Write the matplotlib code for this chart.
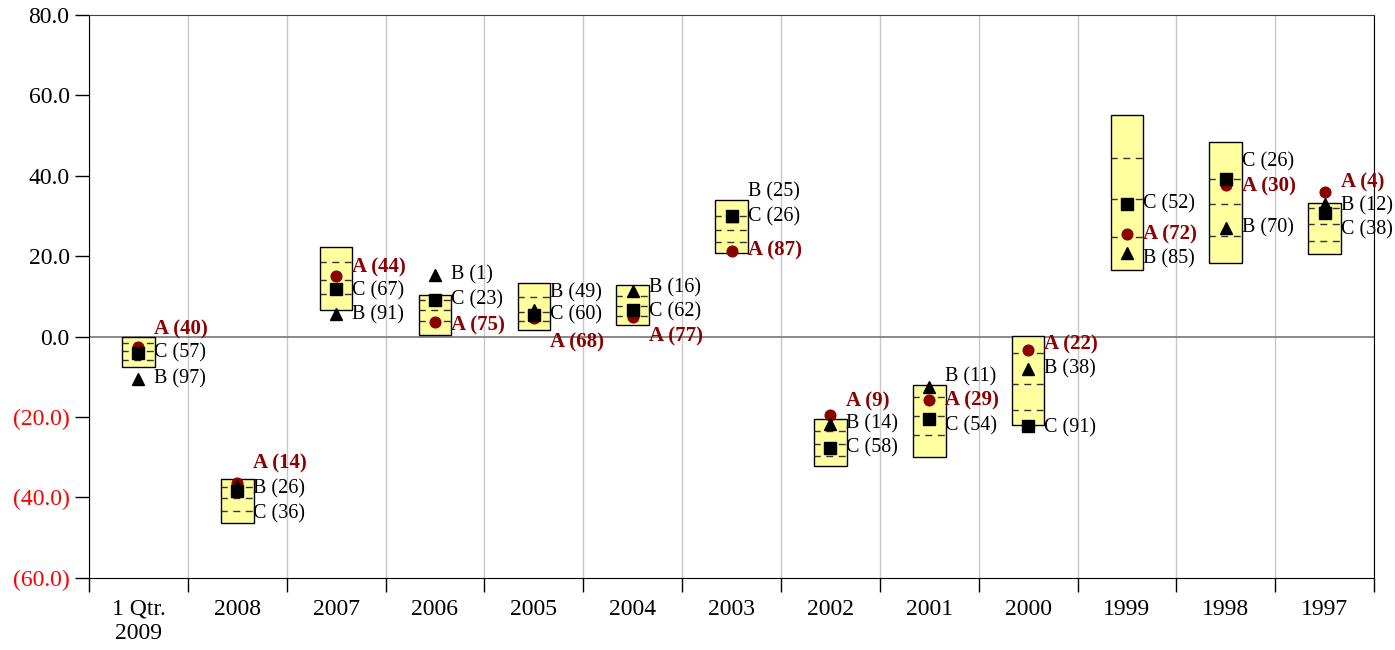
import numpy as np
import matplotlib.pyplot as plt

plt.rcParams['font.family'] = ['Liberation Serif', 'DejaVu Serif']

# Categories (periods)
periods = ['1 Qtr.\n2009', '2008', '2007', '2006', '2005', '2004', '2003',
           '2002', '2001', '2000', '1999', '1998', '1997']

# Range boxes: top / bottom edges and the three inner dashed lines
box_top = [0.0, -35.4, 22.2, 10.4, 13.4, 12.9, 34.1, -20.5, -12.0, 0.1, 55.2, 48.4, 33.2]
box_upper = [-1.6, -37.5, 18.6, 9.2, 9.8, 10.0, 30.1, -23.6, -15.1, -4.2, 44.3, 39.1, 32.0]
box_median = [-3.7, -40.1, 14.0, 6.7, 6.0, 7.7, 26.4, -26.7, -19.8, -11.7, 34.3, 33.0, 27.9]
box_lower = [-5.7, -43.3, 10.6, 3.8, 3.8, 5.2, 23.5, -29.6, -24.4, -18.2, 24.7, 25.1, 23.7]
box_bottom = [-7.5, -46.3, 6.5, 0.5, 1.6, 2.8, 20.8, -32.1, -30.0, -22.1, 16.5, 18.4, 20.6]

# Series values and their ranks
a_vals = [-2.7, -36.4, 15.0, 3.6, 4.6, 4.9, 21.4, -19.6, -15.8, -3.4, 25.4, 37.8, 35.9]
b_vals = [-10.5, -37.2, 5.5, 15.3, 6.5, 11.3, 30.0, -21.7, -12.5, -8.0, 20.8, 27.0, 33.1]
c_vals = [-4.0, -38.5, 11.9, 9.2, 5.3, 6.5, 29.9, -27.7, -20.4, -22.3, 33.1, 39.1, 30.8]
a_rank = [40, 14, 44, 75, 68, 77, 87, 9, 29, 22, 72, 30, 4]
b_rank = [97, 26, 91, 1, 49, 16, 25, 14, 11, 38, 85, 70, 12]
c_rank = [57, 36, 67, 23, 60, 62, 26, 58, 54, 91, 52, 26, 38]

# vertical label nudges (pixels) so the labels don't collide
a_dy = [18, 19, 9, -3, -24, -20, 0, 14, 0, 6, 0, -2, 10]
b_dy = [0, -3, 0, 0, 18, 3, 24, 0, 10, 0, -6, 0, -2]
c_dy = [0, -22, -2, 0, 0, -1, 0, 0, -7, -2, 0, 18, -17]

yticks = [80, 60, 40, 20, 0, -20, -40, -60]

x = np.arange(len(periods))
bw = 0.33

fig, ax = plt.subplots(figsize=(13.95, 6.5), dpi=100)
fig.subplots_adjust(left=0.0638, right=0.985, top=0.977, bottom=0.111)

# grid and zero line
for b in np.arange(len(periods) + 1) - 0.5:
    ax.axvline(b, color='#c8c8c8', lw=1, zorder=0)
ax.axhline(0, color='#808080', lw=1.3, zorder=1)

# yellow range boxes
heights = np.array(box_top) - np.array(box_bottom)
ax.bar(x, heights, bottom=box_bottom, width=bw, color='#ffffa0',
       edgecolor='black', linewidth=1, zorder=2)
for lvl in (box_upper, box_median, box_lower):
    ax.hlines(lvl, x - bw / 2, x + bw / 2, colors='#333333', lw=1,
              linestyles=(0.5, (5, 4)), zorder=3)

# markers
red = '#8b0000'
ax.plot(x, a_vals, 'o', color=red, ms=7.7, ls='none', zorder=4)
ax.plot(x, b_vals, '^', color='black', ms=8.5, ls='none', zorder=5)
ax.plot(x, c_vals, 's', color='black', ms=8.5, ls='none', zorder=6)

# labels
for i in range(len(periods)):
    ax.annotate(f'A ({a_rank[i]})', (x[i], a_vals[i]), xytext=(16, a_dy[i]),
                textcoords='offset pixels', ha='left', va='center',
                fontsize=15, fontweight='bold', color=red, zorder=7)
    ax.annotate(f'B ({b_rank[i]})', (x[i], b_vals[i]), xytext=(16, b_dy[i]),
                textcoords='offset pixels', ha='left', va='center',
                fontsize=14.5, color='black', zorder=7)
    ax.annotate(f'C ({c_rank[i]})', (x[i], c_vals[i]), xytext=(16, c_dy[i]),
                textcoords='offset pixels', ha='left', va='center',
                fontsize=14.5, color='black', zorder=7)

ax.set_xlim(-0.5, len(periods) - 0.5)
ax.set_ylim(-60, 80)

# x axis: ticks at boundaries, labels at centres
ax.set_xticks(np.arange(len(periods) + 1) - 0.5)
ax.set_xticklabels([])
ax.set_xticks(x, minor=True)
ax.set_xticklabels(periods, minor=True, fontsize=17)
ax.tick_params(axis='x', which='major', direction='out', length=10, width=1)
ax.tick_params(axis='x', which='minor', length=0, pad=15)

ylabels = [f'{v:.1f}' if v >= 0 else f'({-v:.1f})' for v in yticks]
ax.set_yticks(yticks, labels=ylabels, fontsize=17)
for lbl, v in zip(ax.get_yticklabels(), yticks):
    lbl.set_color('red' if v < 0 else 'black')
ax.tick_params(axis='y', direction='out', length=10, width=1, pad=4)

for s in ('left', 'bottom', 'right'):
    ax.spines[s].set_color('black')
ax.spines['top'].set_color('#404040')

fig.savefig('out.png', dpi=100)
